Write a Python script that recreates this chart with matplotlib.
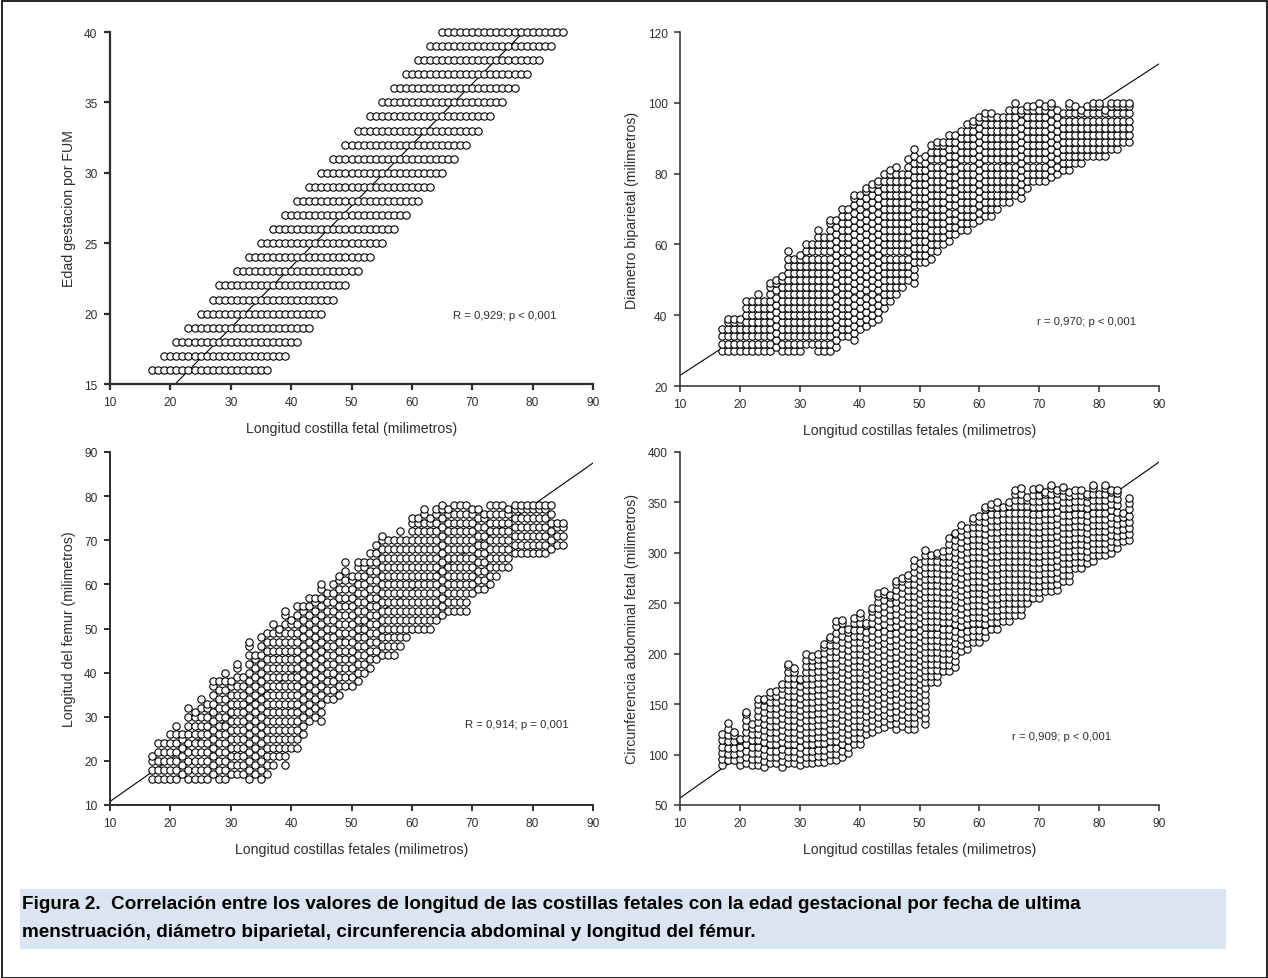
import numpy as np
import matplotlib
matplotlib.use("Agg")
import matplotlib.pyplot as plt
from matplotlib.patches import Rectangle

W, H = 1268, 979

# ---- panel 1: rows (gestational age) with first / last rib length
edad_y = [16, 17, 18, 19, 20, 21, 22, 23, 24, 25, 26, 27, 28, 29, 30, 31, 32, 33, 34, 35, 36, 37, 38, 39, 40]
edad_lo = [17, 19, 21, 23, 25, 27, 28, 31, 33, 35, 37, 39, 41, 43, 45, 47, 49, 51, 53, 55, 57, 59, 61, 63, 65]
edad_hi = [36, 39, 41, 43, 45, 47, 49, 51, 53, 55, 57, 59, 61, 63, 65, 67, 69, 71, 73, 75, 77, 79, 81, 83, 85]

# ---- panels 2-4: columns (rib length) with lowest / highest value read
costilla = list(range(17, 86))
dbp_lo = [30, 30, 30, 30, 30, 30, 30, 30, 30, 31, 30, 30, 30, 30, 32, 32, 30, 30, 30, 31, 34, 34, 33, 36, 37,
          38, 39, 42, 44, 46, 48, 50, 49, 55, 55, 56, 58, 60, 61, 63, 64, 64, 66, 67, 68, 68, 70, 72, 72, 74,
          73, 76, 78, 78, 78, 79, 80, 81, 81, 83, 83, 85, 85, 85, 85, 87, 87, 89, 89]
dbp_hi = [36, 39, 39, 39, 44, 44, 46, 44, 49, 50, 51, 58, 56, 57, 60, 60, 64, 62, 67, 67, 70, 70, 74, 74, 76,
          77, 78, 80, 81, 82, 80, 84, 87, 84, 85, 88, 89, 89, 91, 91, 92, 94, 95, 96, 97, 97, 96, 96, 98, 100,
          98, 99, 99, 100, 99, 100, 98, 97, 100, 99, 98, 99, 100, 100, 98, 100, 100, 100, 100]
femur_lo = [16, 16, 16, 16, 16, 17, 16, 16, 16, 16, 17, 16, 16, 17, 17, 17, 16, 17, 16, 17, 19, 21, 19, 23, 23,
            26, 29, 30, 29, 34, 34, 35, 37, 37, 38, 40, 41, 43, 44, 44, 44, 46, 48, 50, 50, 50, 50, 52, 53, 54,
            54, 54, 54, 58, 59, 59, 60, 62, 64, 64, 67, 67, 67, 67, 67, 67, 68, 69, 69]
femur_hi = [21, 24, 24, 26, 28, 26, 32, 31, 34, 33, 38, 38, 40, 38, 42, 39, 47, 44, 48, 49, 51, 50, 54, 52, 55,
            55, 57, 57, 60, 58, 60, 62, 65, 62, 65, 65, 67, 69, 71, 70, 70, 72, 70, 75, 75, 77, 75, 77, 78, 77,
            78, 78, 78, 77, 77, 76, 78, 78, 78, 77, 78, 78, 78, 78, 78, 78, 78, 74, 74]
ca_lo = [90, 95, 95, 90, 92, 90, 90, 88, 92, 92, 88, 92, 92, 90, 92, 92, 93, 93, 95, 95, 98, 102, 110, 110, 120,
         122, 125, 127, 130, 125, 128, 125, 125, 140, 130, 172, 172, 183, 183, 187, 203, 205, 212, 212, 217, 225,
         225, 232, 232, 238, 238, 250, 255, 255, 262, 262, 263, 272, 272, 285, 285, 290, 292, 298, 298, 300, 305,
         312, 313]
ca_hi = [120, 131, 122, 115, 142, 130, 155, 155, 162, 163, 170, 190, 186, 175, 200, 198, 200, 210, 217, 232, 233,
         225, 235, 240, 230, 245, 260, 262, 258, 272, 275, 278, 293, 290, 303, 298, 300, 302, 315, 320, 328, 325,
         335, 337, 345, 348, 350, 345, 350, 362, 364, 355, 363, 364, 360, 367, 362, 365, 360, 362, 362, 358, 367,
         358, 367, 362, 362, 340, 354]

# regression lines, end points
line1_x, line1_y = [20.8, 78.5], [15, 40]
line2_x, line2_y = [10, 90], [23, 111]
line3_x, line3_y = [10, 90], [10.8, 87.5]
line4_x, line4_y = [10, 90], [57, 390]

x_ticks = [10, 20, 30, 40, 50, 60, 70, 80, 90]
caption = ["Figura 2.  Correlación entre los valores de longitud de las costillas fetales con la edad gestacional por fecha de ultima",
           "menstruación, diámetro biparietal, circunferencia abdominal y longitud del fémur."]

plt.rcParams["font.family"] = ["Liberation Sans", "DejaVu Sans"]
ink = "#2e2e2e"

fig = plt.figure(figsize=(W / 100, H / 100), dpi=100)


def panel(x0, x1, ytop, ybot, ylim, yticks, xlabel, ylabel, note, note_xy, lw=1.1):
    ax = fig.add_axes([x0 / W, 1 - ybot / H, (x1 - x0) / W, (ybot - ytop) / H])
    ax.set_xlim(10, 90)
    ax.set_ylim(*ylim)
    ax.set_xticks(x_ticks)
    ax.set_yticks(yticks)
    ax.tick_params(labelsize=8.6, length=4, width=lw, colors=ink, pad=5)
    ax.spines["top"].set_visible(False)
    ax.spines["right"].set_visible(False)
    ax.spines["left"].set_linewidth(lw)
    ax.spines["bottom"].set_linewidth(lw)
    ax.spines["left"].set_color(ink)
    ax.spines["bottom"].set_color(ink)
    ax.patch.set_visible(False)
    ax.set_xlabel(xlabel, fontsize=10.2, color=ink, labelpad=9)
    ax.set_ylabel(ylabel, fontsize=10.2, color=ink, labelpad=6)
    ax.text(note_xy[0], note_xy[1], note, fontsize=8.2, color=ink, va="center")
    return ax


def dots(ax, xs, ys):
    ax.plot(xs, ys, ls="none", marker="o", ms=5.3, mfc="white", mec="black", mew=0.8,
            clip_on=False, zorder=3)


def columns(lo, hi, step):
    xs, ys = [], []
    for c, a, b in zip(costilla, lo, hi):
        vals = list(range(a, b, step)) + [b]
        xs += [c] * len(vals)
        ys += vals
    return xs, ys


# panel 1
ax1 = panel(110, 593, 33, 385, (15, 40), [15, 20, 25, 30, 35, 40],
            "Longitud costilla fetal (milimetros)", "Edad gestacion por FUM",
            "R = 0,929; p < 0,001", (66.8, 19.9), lw=1.6)
ax1.plot(line1_x, line1_y, color="black", lw=0.8, zorder=2)
xs1, ys1 = [], []
for y, a, b in zip(edad_y, edad_lo, edad_hi):
    r = list(range(a, b + 1))
    xs1 += r
    ys1 += [y] * len(r)
dots(ax1, xs1, ys1)

# panel 2
ax2 = panel(680, 1159, 33, 387, (20, 120), [20, 40, 60, 80, 100, 120],
            "Longitud costillas fetales (milimetros)", "Diametro biparietal (milimetros)",
            "r = 0,970; p < 0,001", (69.6, 38.4))
ax2.plot(line2_x, line2_y, color="black", lw=0.8, zorder=2)
dots(ax2, *columns(dbp_lo, dbp_hi, 2))

# panel 3
ax3 = panel(110, 593, 453, 806, (10, 90), [10, 20, 30, 40, 50, 60, 70, 80, 90],
            "Longitud costillas fetales (milimetros)", "Longitud del femur (milimetros)",
            "R = 0,914; p = 0,001", (68.8, 28.4), lw=1.4)
ax3.plot(line3_x, line3_y, color="black", lw=0.8, zorder=2)
dots(ax3, *columns(femur_lo, femur_hi, 2))

# panel 4
ax4 = panel(680, 1159, 453, 806, (50, 400), [50, 100, 150, 200, 250, 300, 350, 400],
            "Longitud costillas fetales (milimetros)", "Circunferencia abdominal fetal (milimetros)",
            "r = 0,909; p < 0,001", (65.4, 118))
ax4.plot(line4_x, line4_y, color="black", lw=0.8, zorder=2)
dots(ax4, *columns(ca_lo, ca_hi, 6))

# caption band and picture frame
fig.add_artist(Rectangle((20 / W, 1 - 950 / H), 1206 / W, 60 / H, transform=fig.transFigure,
                         facecolor="#dbe5f1", edgecolor="none"))
fig.text(22 / W, 1 - 905 / H, caption[0], fontsize=13.6, fontweight="bold", va="center",
         family=["Liberation Sans Narrow", "Liberation Sans"])
fig.text(22 / W, 1 - 933 / H, caption[1], fontsize=13.6, fontweight="bold", va="center",
         family=["Liberation Sans Narrow", "Liberation Sans"])
fig.add_artist(Rectangle((1.5 / W, 0), (W - 3) / W, 1 - 1.5 / H, transform=fig.transFigure,
                         facecolor="none", edgecolor="black", lw=1.2))

fig.savefig("out.png", dpi=100, facecolor="white")
